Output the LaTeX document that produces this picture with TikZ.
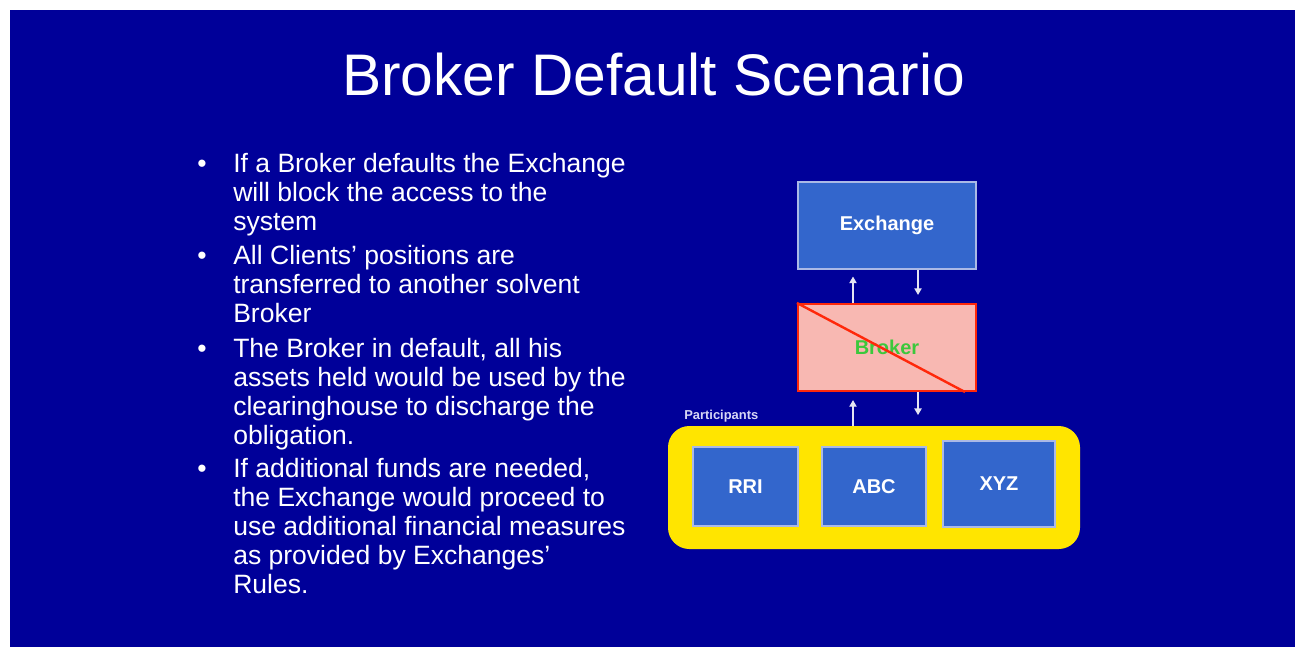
\documentclass[tikz,border=0pt]{standalone}
\usepackage{fontspec}
\setmainfont{Liberation Sans}
\usetikzlibrary{arrows.meta,calc}

\definecolor{slidebg}{RGB}{0,0,153}
\definecolor{boxblue}{RGB}{51,102,204}
\definecolor{boxedge}{RGB}{170,185,230}
\definecolor{partyellow}{RGB}{255,229,0}
\definecolor{failpink}{RGB}{248,184,178}
\definecolor{failred}{RGB}{255,40,10}
\definecolor{brokergreen}{RGB}{60,200,60}
\definecolor{flowline}{RGB}{228,228,242}
\definecolor{labeltint}{RGB}{215,215,245}

\begin{document}
\begin{tikzpicture}[x=0.75pt,y=-0.75pt,
  slidetitle/.style={text=white,font=\fontsize{44}{50}\selectfont,inner sep=0pt,anchor=base},
  bulletline/.style={text=white,font=\fontsize{19.9}{22}\selectfont,inner sep=0pt,anchor=base west},
  bulletmark/.style={text=white,font=\fontsize{19.9}{22}\selectfont,inner sep=0pt,anchor=base},
  unitbox/.style={draw=boxedge,line width=0.8pt,fill=boxblue,text=white,
    font=\bfseries\fontsize{15}{18}\selectfont,inner sep=0pt},
  failbox/.style={draw=failred,line width=1.6pt,fill=failpink,text=brokergreen,
    font=\bfseries\fontsize{15}{18}\selectfont,inner sep=0pt},
  groupbox/.style={fill=partyellow,rounded corners=16pt,inner sep=0pt},
  grouplabel/.style={text=labeltint,font=\bfseries\fontsize{9.7}{11}\selectfont,inner sep=0pt,anchor=west},
  flow/.style={draw=flowline,line width=1pt,-{Triangle[length=5pt,width=5.5pt]}},
]
% page and slide background
\useasboundingbox (0,0) rectangle (1298,647);
\fill[white] (0,0) rectangle (1298,647);
\fill[slidebg] (10,10) rectangle (1295,647);

% title
\node[slidetitle] (title) at (653.5,95) {Broker Default Scenario};

% bullet list
\foreach \y [count=\i] in {172,264,357,477}
  \node[bulletmark] (dot\i) at (202,\y) {•};
\foreach \y/\t [count=\i] in {
  172/{If a Broker defaults the Exchange},
  201/{will block the access to the},
  230/{system},
  264/{All Clients’ positions are},
  293/{transferred to another solvent},
  322/{Broker},
  357/{The Broker in default, all his},
  386/{assets held would be used by the},
  415/{clearinghouse to discharge the},
  444/{obligation.},
  477/{If additional funds are needed,},
  506/{the Exchange would proceed to},
  535/{use additional financial measures},
  564/{as provided by Exchanges’},
  593/{Rules.}}
  \node[bulletline] (line\i) at (233,\y) {\t};

% exchange and defaulted broker
\node[unitbox,minimum width=133.5pt,minimum height=65.25pt] (exch) at (887,225.5) {Exchange};
\node[failbox,minimum width=133.5pt,minimum height=65.25pt] (broker) at (887,347.5) {Broker};
\draw[failred,line width=1.8pt] (broker.north west) -- ($(broker.south east)+(-12,0)$);

% participants group
\node[groupbox,minimum width=309pt,minimum height=92.25pt] (group) at (874,487.5) {};
\node[grouplabel] (grouptag) at (684,416) {Participants};
\node[unitbox,minimum width=78.75pt,minimum height=59.25pt] (rri) at (745.5,486.5) {RRI};
\node[unitbox,minimum width=78pt,minimum height=59.25pt] (abc) at (874,486.5) {ABC};
\node[unitbox,minimum width=84pt,minimum height=64.5pt] (xyz) at (999,484) {XYZ};

% flows between the levels
\draw[flow,shorten >=5.25pt] ($(broker.north)+(-34,0)$) -- ($(exch.south)+(-34,0)$);
\draw[flow,shorten >=6pt] ($(exch.south)+(31,0)$) -- ($(broker.north)+(31,0)$);
\draw[flow,shorten >=6pt] ($(group.north)+(-21,0)$) -- ($(broker.south)+(-34,0)$);
\draw[flow,shorten >=8pt] ($(broker.south)+(31,0)$) -- ($(group.north)+(44,0)$);
\end{tikzpicture}
\end{document}
